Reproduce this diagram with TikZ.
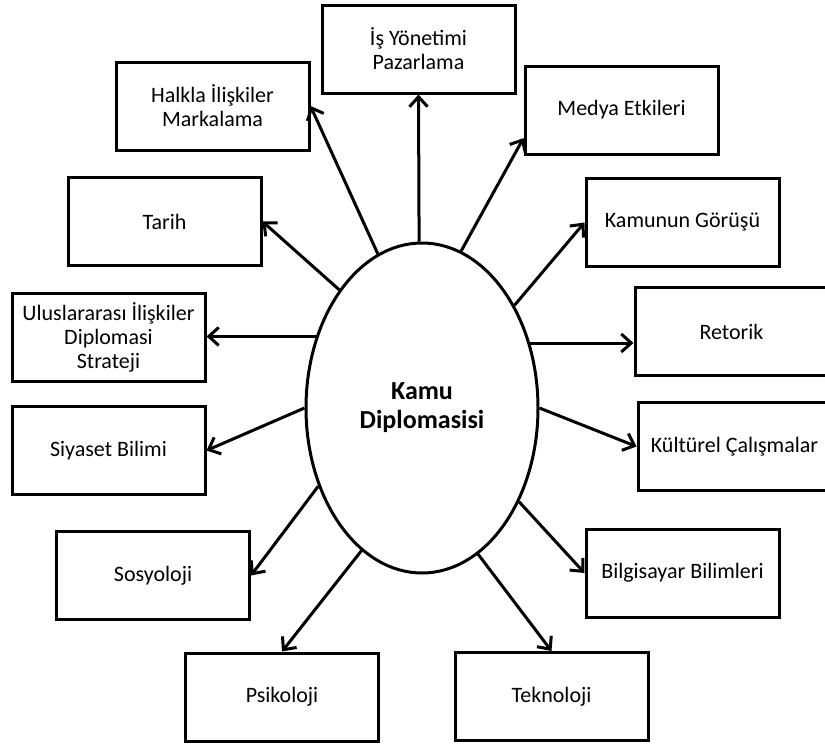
\documentclass[tikz,border=0pt]{standalone}
\usepackage{fontspec}
\setmainfont{Carlito}
\usetikzlibrary{shapes.geometric,arrows.meta}

\begin{document}
\begin{tikzpicture}[x=1pt,y=-1pt,
    kutu/.style={draw,line width=3pt,minimum width=193pt,minimum height=88pt,inner sep=0pt,align=center,font=\fontsize{22}{24}\selectfont},
    ok/.style={line width=3pt,-{Straight Barb[length=10pt,width=18pt]}}]
            \useasboundingbox (0,0) rectangle (825,744);
            \node [ellipse,draw,line width=3pt,minimum width=232pt,minimum height=330pt,inner sep=0pt,align=center,font=\fontsize{26}{29}\selectfont\bfseries] (kd) at (422,408) {Kamu\\Diplomasisi};
            \node [kutu] (is) at (418.5,49) {İş Yönetimi\\Pazarlama};
            \node [kutu] (hal) at (212.5,106) {Halkla İlişkiler\\Markalama};
            \node [kutu] (med) at (621.5,110) {Medya Etkileri};
            \node [kutu] (tar) at (164.5,221.5) {Tarih};
            \node [kutu] (kam) at (682.5,222.5) {Kamunun Görüşü};
            \node [kutu] (ulu) at (108.5,337) {Uluslararası İlişkiler\\Diplomasi\\Strateji};
            \node [kutu] (ret) at (731.5,331.5) {Retorik};
            \node [kutu] (siy) at (108.5,450.5) {Siyaset Bilimi};
            \node [kutu] (kul) at (734.5,446.5) {Kültürel Çalışmalar};
            \node [kutu] (sos) at (153,575.5) {Sosyoloji};
            \node [kutu] (bil) at (682.5,573) {Bilgisayar Bilimleri};
            \node [kutu] (psi) at (282,697) {Psikoloji};
            \node [kutu] (tek) at (551.5,696.5) {Teknoloji};
            \draw [ok] (kd.91) -- (is.south);
            \draw [ok] (kd.106) -- (hal.east);
            \draw [ok] (kd.125) -- (tar.east);
            \draw [ok] (kd.76) -- (med.196);
            \draw [ok] (kd.48) -- (kam.west);
            \draw [ok] (kd.146) -- (kd.146 -| ulu.east);
            \draw [ok] (kd.31) -- (kd.31 -| ret.west);
            \draw [ok] (kd.west) -- (siy.east);
            \draw [ok] (kd.east) -- (kul.west);
            \draw [ok] (kd.217) -- (sos.east);
            \draw [ok] (kd.247) -- (psi.north);
            \draw [ok] (kd.291) -- (tek.north);
            \draw [ok] (kd.316) -- (bil.west);
\end{tikzpicture}
\end{document}
